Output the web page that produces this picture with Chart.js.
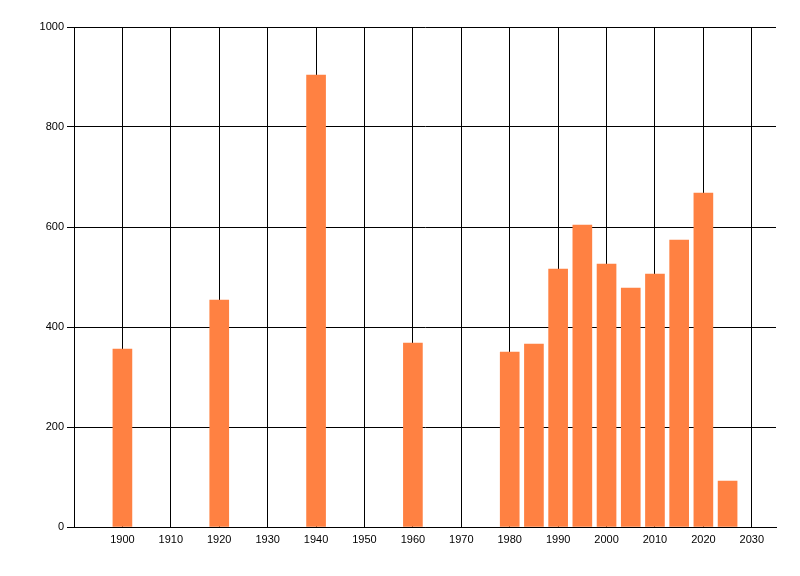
<!DOCTYPE html>
<html>
<head>
<meta charset="utf-8">
<script src="https://cdn.jsdelivr.net/npm/chart.js@4/dist/chart.umd.min.js"></script>
<style>
  html, body { margin: 0; padding: 0; background: #fff; }
  #wrap { width: 800px; height: 576px; }
</style>
</head>
<body>
<div id="wrap"><canvas id="chart"></canvas></div>
<script>
const years = [1900, 1920, 1940, 1960, 1980, 1985, 1990, 1995, 2000, 2005, 2010, 2015, 2020, 2025];
const values = [356, 454, 904, 368, 350, 366, 516, 604, 526, 478, 506, 574, 668, 92];
const xTicks = [1900, 1910, 1920, 1930, 1940, 1950, 1960, 1970, 1980, 1990, 2000, 2010, 2020, 2030];
const yTicks = [0, 200, 400, 600, 800, 1000];

const font = { family: "'Liberation Sans', Arial, sans-serif", size: 11 };

new Chart(document.getElementById("chart"), {
  type: "bar",
  data: {
    datasets: [
      {
        data: years.map((y, i) => ({ x: y, y: values[i] })),
        backgroundColor: "#ff8142",
        barThickness: 19,
      },
    ],
  },
  options: {
    responsive: true,
    maintainAspectRatio: false,
    animation: false,
    layout: { padding: { top: 27, right: 24, left: 0, bottom: 0 } },
    plugins: { legend: { display: false }, tooltip: { enabled: false } },
    scales: {
      x: {
        type: "linear",
        min: 1890,
        max: 2035,
        offset: false,
        afterBuildTicks: (scale) => {
          scale.ticks = xTicks.map((v) => ({ value: v }));
        },
        afterFit: (scale) => {
          scale.height = 49;
        },
        grid: { color: "#000", lineWidth: 1, drawTicks: false, offset: false },
        border: { color: "#000", width: 1 },
        ticks: {
          color: "#000",
          font: font,
          padding: 6,
          maxRotation: 0,
          autoSkip: false,
          callback: (v) => String(v),
        },
      },
      y: {
        min: 0,
        max: 1000,
        afterBuildTicks: (scale) => {
          scale.ticks = yTicks.map((v) => ({ value: v }));
        },
        afterFit: (scale) => {
          scale.width = 74;
        },
        grid: { color: "#000", lineWidth: 1, tickLength: 7 },
        border: { color: "#000", width: 1 },
        ticks: { color: "#000", font: font, padding: 3, callback: (v) => String(v) },
      },
    },
  },
});
</script>
</body>
</html>
